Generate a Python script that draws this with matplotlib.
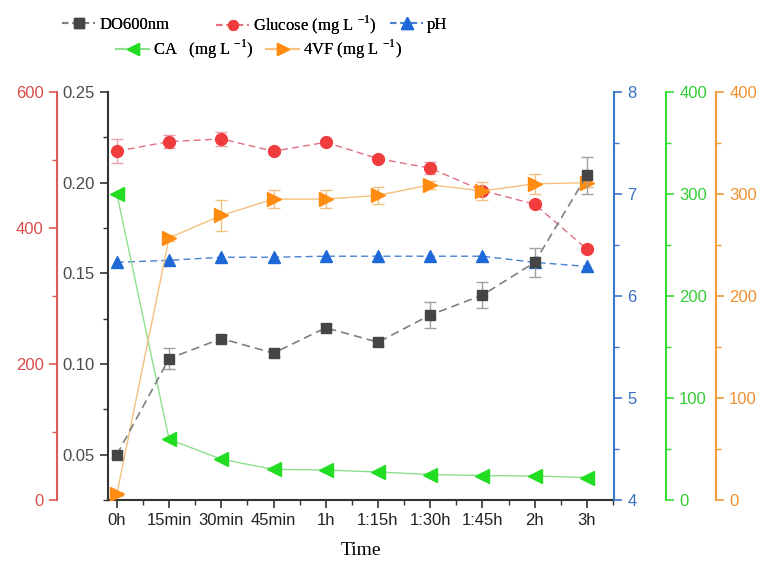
import numpy as np
import matplotlib
matplotlib.use("Agg")
import matplotlib.pyplot as plt
from matplotlib.lines import Line2D
from matplotlib.ticker import MultipleLocator, AutoMinorLocator

# data
times = ["0h", "15min", "30min", "45min", "1h", "1:15h", "1:30h", "1:45h", "2h", "3h"]
do600 = [0.050, 0.103, 0.114, 0.106, 0.120, 0.112, 0.127, 0.138, 0.156, 0.204]
do600_err = [0.002, 0.006, 0.002, 0.002, 0.002, 0.002, 0.007, 0.007, 0.008, 0.010]
glucose = [513, 527, 531, 513, 526, 502, 488, 455, 435, 369]
glucose_err = [18, 10, 10, 4, 4, 4, 9, 4, 4, 4]
ph = [6.33, 6.35, 6.38, 6.38, 6.39, 6.39, 6.39, 6.39, 6.33, 6.29]
ca = [300, 59.5, 40, 30, 29.4, 27.4, 25, 24, 23.5, 22]
vf = [6, 257, 279, 295, 295, 298.6, 309, 303, 310, 311]
vf_err = [2, 3, 15, 9, 9, 8, 4, 9, 10, 4]

plt.rcParams['font.family'] = ['Liberation Sans', 'DejaVu Sans']
plt.rcParams['mathtext.fontset'] = 'custom'
serif = ['Liberation Serif', 'DejaVu Serif']

x = np.arange(len(times))

fig = plt.figure(figsize=(7.58, 5.62), dpi=100)
ax = fig.add_axes([108 / 758, 1 - 500 / 562, 506 / 758, 408 / 562])

c_do, c_do_line = '#454545', '#808080'
c_glu, c_glu_line = '#f03c3c', '#e07080'
c_ph, c_ph_line = '#1f68d8', '#4a80d0'
c_ca, c_ca_line = '#22dd22', '#8ce08c'
c_vf, c_vf_line = '#ff8c10', '#f5c080'

tick_kw = dict(direction='out', length=6, width=1.2, labelsize=12)
minor_kw = dict(direction='out', length=3.5, width=1.0)


def style_axis(a, color, labelcolor, side, lo, hi, major, minor_n=2):
    a.set_ylim(lo, hi)
    a.yaxis.set_major_locator(MultipleLocator(major))
    a.yaxis.set_minor_locator(AutoMinorLocator(minor_n))
    a.yaxis.set_ticks_position(side)
    a.tick_params(axis='y', which='major', colors=color, labelcolor=labelcolor, **tick_kw)
    a.tick_params(axis='y', which='minor', colors=color, **minor_kw)
    for s in a.spines.values():
        s.set_visible(False)
    a.spines[side].set_visible(True)
    a.spines[side].set_color(color)
    a.spines[side].set_linewidth(1.5)


# main axis: DO600
ax.set_xlim(-0.17, 9.52)
style_axis(ax, '#333333', '#4a4a4a', 'left', 0.025, 0.25, 0.05)
ax.spines['bottom'].set_visible(True)
ax.spines['bottom'].set_color('#333333')
ax.spines['bottom'].set_linewidth(1.5)
ax.yaxis.set_major_formatter(matplotlib.ticker.FormatStrFormatter('%.2f'))
ax.set_xticks(x)
ax.set_xticklabels(times)
ax.xaxis.set_minor_locator(MultipleLocator(0.5))
ax.tick_params(axis='x', which='major', colors='#333333', labelcolor='#222222', **tick_kw)
ax.tick_params(axis='x', which='minor', colors='#333333', **minor_kw)
ax.set_xlabel('Time', family=serif, fontsize=14, labelpad=10)

# glucose axis on the far left
ax_glu = ax.twinx()
style_axis(ax_glu, '#e05a5a', '#d94c4c', 'left', 0, 600, 200)
ax_glu.spines['left'].set_position(('axes', -51 / 506))
ax_glu.yaxis.set_label_position('left')

# pH axis on the right
ax_ph = ax.twinx()
style_axis(ax_ph, '#3a78d0', '#3a6fc4', 'right', 4, 8, 1)

# CA axis
ax_ca = ax.twinx()
style_axis(ax_ca, '#33dd33', '#33cc33', 'right', 0, 400, 100)
ax_ca.spines['right'].set_position(('axes', (666 - 108) / 506))

# 4VF axis
ax_vf = ax.twinx()
style_axis(ax_vf, '#f09a38', '#f09030', 'right', 0, 400, 100)
ax_vf.spines['right'].set_position(('axes', (716 - 108) / 506))

for a in (ax_glu, ax_ph, ax_ca, ax_vf):
    a.set_xlim(ax.get_xlim())
    a.tick_params(axis='x', which='both', bottom=False, labelbottom=False)

# series
ax_ca.plot(x, ca, '-', color=c_ca_line, lw=1.0)
ax_ca.plot(x, ca, '<', color=c_ca, ms=10, ls='none')

ax_vf.errorbar(x, vf, yerr=vf_err, fmt='none', ecolor='#f0c080', elinewidth=1.0, capsize=4)
ax_vf.plot(x, vf, '-', color=c_vf_line, lw=1.0)
ax_vf.plot(x, vf, '>', color=c_vf, ms=10, ls='none')

ax_ph.plot(x, ph, '--', color=c_ph_line, lw=1.0, dashes=(5, 3))
ax_ph.plot(x, ph, '^', color=c_ph, ms=9, ls='none')

ax_glu.errorbar(x, glucose, yerr=glucose_err, fmt='none', ecolor='#eaa0a8', elinewidth=1.0, capsize=4)
ax_glu.plot(x, glucose, '--', color=c_glu_line, lw=1.0, dashes=(5, 3))
ax_glu.plot(x, glucose, 'o', color=c_glu, ms=8.5, ls='none')

ax_do = ax.twinx()
ax_do.set_ylim(ax.get_ylim())
ax_do.set_xlim(ax.get_xlim())
ax_do.axis('off')
ax_do.errorbar(x, do600, yerr=do600_err, fmt='none', ecolor='#a0a0a0', elinewidth=1.0, capsize=4)
ax_do.plot(x, do600, '--', color=c_do_line, lw=1.2, dashes=(5, 3))
ax_do.plot(x, do600, 's', color=c_do, ms=7.5, ls='none')

# legend entries placed one by one, like the original layout
h_do = Line2D([], [], color=c_do_line, ls='--', dashes=(3, 2), marker='s', mfc=c_do, mec=c_do, ms=6.5)
h_glu = Line2D([], [], color=c_glu_line, ls='--', dashes=(3, 2), marker='o', mfc=c_glu, mec=c_glu, ms=7)
h_ph = Line2D([], [], color=c_ph_line, ls='--', dashes=(3, 2), marker='^', mfc=c_ph, mec=c_ph, ms=8)
h_ca = Line2D([], [], color=c_ca_line, ls='-', marker='<', mfc=c_ca, mec=c_ca, ms=8.5)
h_vf = Line2D([], [], color=c_vf_line, ls='-', marker='>', mfc=c_vf, mec=c_vf, ms=8.5)

entries = [
    (h_do, 'DO600nm', 62, 25),
    (h_glu, r'Glucose (mg L $^{\mathregular{-1}}$)', 216, 25),
    (h_ph, 'pH', 390, 25),
    (h_ca, r'CA   (mg L $^{\mathregular{-1}}$)', 116, 49),
    (h_vf, r'4VF (mg L $^{\mathregular{-1}}$)', 266, 49),
]
fs = 12
for h, lab, px, py in entries:
    leg = fig.legend([h], [lab], frameon=False, prop={'family': serif, 'size': fs},
                     handlelength=33 / (fs * 100 / 72), handletextpad=0.25,
                     borderpad=0, borderaxespad=0, loc='center left',
                     bbox_to_anchor=(px / 758, 1 - py / 562))
    fig.add_artist(leg)

fig.savefig('out.png', dpi=100)
